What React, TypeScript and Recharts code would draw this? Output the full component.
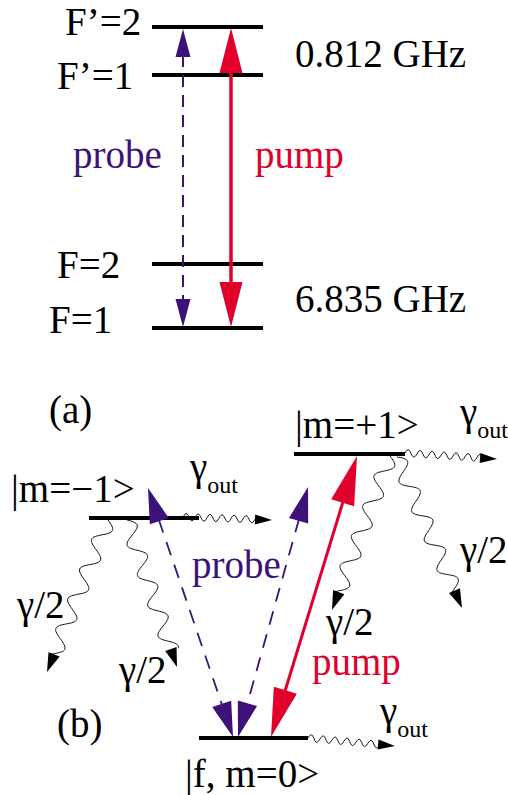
import React from "react";
import { ComposedChart, XAxis, YAxis, ReferenceLine, ReferenceDot } from "recharts";

const WIDTH = 508;
const HEIGHT = 795;
const PURPLE = "#3c1278";
const RED = "#e0002b";
const FONT = '"Liberation Serif", "DejaVu Serif", "Times New Roman", Times, serif';

// energy levels (picture coordinates, y grows downward)
const levelNames = ["F'=2", "F'=1", "F=2", "F=1", "m=-1", "m=+1", "f,m=0"];
const levelStart = [152, 152, 152, 152, 89, 294, 199];
const levelEnd = [263, 263, 263, 263, 199, 405, 308];
const levelY = [27, 75, 264, 328, 518, 454, 738];

// laser transitions, double-headed
const beams = [
  { panel: "a", beam: "probe", x1: 183, y1: 29, x2: 183, y2: 327 },
  { panel: "a", beam: "pump", x1: 231, y1: 28, x2: 231, y2: 327 },
  { panel: "b", beam: "probe", x1: 148, y1: 488, x2: 233, y2: 737 },
  { panel: "b", beam: "probe", x1: 308, y1: 487, x2: 238, y2: 737 },
  { panel: "b", beam: "pump", x1: 357, y1: 456, x2: 271, y2: 737 },
];

// spontaneous decays / losses (wavy)
const decays = [
  { kind: "out", x1: 183, y1: 517, x2: 272, y2: 520 },
  { kind: "half", x1: 108, y1: 520, x2: 47, y2: 672 },
  { kind: "half", x1: 127, y1: 520, x2: 177, y2: 667 },
  { kind: "out", x1: 405, y1: 453, x2: 497, y2: 459 },
  { kind: "half", x1: 390, y1: 456, x2: 332, y2: 610 },
  { kind: "half", x1: 397, y1: 457, x2: 462, y2: 608 },
  { kind: "out", x1: 308, y1: 738, x2: 395, y2: 746 },
];

// text labels
const labelText = [
  "F’=2", "F’=1", "F=2", "F=1", "0.812 GHz", "6.835 GHz", "probe", "pump",
  "(a)", "|m=−1>", "|m=+1>", "|f, m=0>", "probe", "pump", "(b)",
  "γ/2", "γ/2", "γ/2", "γ/2",
];
const labelX = [65, 57, 57, 49, 295, 295, 73, 255, 49, 11, 295, 185, 192, 312, 57, 17, 119, 326, 460];
const labelY = [35, 89, 278, 333, 67, 312, 168, 168, 423, 502, 438, 787, 578, 675, 737, 618, 683, 635, 563];
const labelTone = [
  "ink", "ink", "ink", "ink", "ink", "ink", "probe", "pump",
  "ink", "ink", "ink", "ink", "probe", "pump", "ink",
  "ink", "ink", "ink", "ink",
];

// gamma_out labels
const gammaOutX = [190, 460, 380];
const gammaOutY = [480, 425, 724];

const toneColor: Record<string, string> = { ink: "#000", probe: PURPLE, pump: RED };

const beamStyle: Record<string, Record<string, { color: string; width: number; dash?: string; hl: number; hw: number }>> = {
  a: {
    probe: { color: PURPLE, width: 2, dash: "12 8", hl: 28, hw: 15 },
    pump: { color: RED, width: 3.5, hl: 45, hw: 23 },
  },
  b: {
    probe: { color: PURPLE, width: 1.8, dash: "14 10", hl: 35, hw: 20 },
    pump: { color: RED, width: 3, hl: 49, hw: 24 },
  },
};
const waveStyle: Record<string, { amp: number; period: number; head: number; headW: number }> = {
  out: { amp: 3.5, period: 12, head: 17, headW: 10 },
  half: { amp: 8, period: 32, head: 19, headW: 12 },
};

function dir(x1: number, y1: number, x2: number, y2: number) {
  const len = Math.hypot(x2 - x1, y2 - y1);
  return { len, ux: (x2 - x1) / len, uy: (y2 - y1) / len };
}

function head(tx: number, ty: number, ux: number, uy: number, len: number, w: number) {
  const bx = tx - ux * len;
  const by = ty - uy * len;
  const nx = -uy * (w / 2);
  const ny = ux * (w / 2);
  return `${tx},${ty} ${bx + nx},${by + ny} ${bx - nx},${by - ny}`;
}

function BeamShape(props: any, panel: string, beam: string) {
  const { x1, y1, x2, y2 } = props;
  const s = beamStyle[panel][beam];
  const { ux, uy } = dir(x1, y1, x2, y2);
  return (
    <g>
      <line
        x1={x1 + ux * (s.hl - 2)}
        y1={y1 + uy * (s.hl - 2)}
        x2={x2 - ux * (s.hl - 2)}
        y2={y2 - uy * (s.hl - 2)}
        stroke={s.color}
        strokeWidth={s.width}
        strokeDasharray={s.dash}
      />
      <polygon points={head(x1, y1, -ux, -uy, s.hl, s.hw)} fill={s.color} />
      <polygon points={head(x2, y2, ux, uy, s.hl, s.hw)} fill={s.color} />
    </g>
  );
}

function WavyShape(props: any, kind: string) {
  const { x1, y1, x2, y2 } = props;
  const w = waveStyle[kind];
  const { len, ux, uy } = dir(x1, y1, x2, y2);
  const run = len - w.head + 2;
  let d = "";
  for (let s = 0; s <= run; s += 1) {
    const off = -w.amp * Math.sin((2 * Math.PI * s) / w.period);
    const px = x1 + ux * s - uy * off;
    const py = y1 + uy * s + ux * off;
    d += `${s === 0 ? "M" : "L"}${px.toFixed(1)},${py.toFixed(1)}`;
  }
  return (
    <g>
      <path d={d} fill="none" stroke="#111" strokeWidth={1} />
      <polygon points={head(x2, y2, ux, uy, w.head, w.headW)} fill="#000" />
    </g>
  );
}

export default function App() {
  return (
    <div style={{ position: "absolute", left: 0, top: 0, background: "#fff" }}>
      <ComposedChart width={WIDTH} height={HEIGHT} margin={{ top: 0, right: 0, bottom: 0, left: 0 }}>
        <XAxis type="number" dataKey="x" domain={[0, WIDTH]} allowDataOverflow hide />
        <YAxis type="number" dataKey="y" domain={[0, HEIGHT]} allowDataOverflow reversed hide />

        {levelNames.map((name, i) => (
          <ReferenceLine
            key={name}
            segment={[
              { x: levelStart[i], y: levelY[i] },
              { x: levelEnd[i], y: levelY[i] },
            ]}
            stroke="#000"
            strokeWidth={4}
            ifOverflow="visible"
          />
        ))}

        {decays.map((d, i) => (
          <ReferenceLine
            key={`decay-${i}`}
            segment={[
              { x: d.x1, y: d.y1 },
              { x: d.x2, y: d.y2 },
            ]}
            ifOverflow="visible"
            shape={(p: any) => WavyShape(p, d.kind)}
          />
        ))}

        {beams.map((b, i) => (
          <ReferenceLine
            key={`beam-${i}`}
            segment={[
              { x: b.x1, y: b.y1 },
              { x: b.x2, y: b.y2 },
            ]}
            ifOverflow="visible"
            shape={(p: any) => BeamShape(p, b.panel, b.beam)}
          />
        ))}

        {labelText.map((t, i) => (
          <ReferenceDot
            key={`label-${i}`}
            x={labelX[i]}
            y={labelY[i]}
            r={0}
            ifOverflow="visible"
            shape={(p: any) => (
              <text x={p.cx} y={p.cy} style={{ fontFamily: FONT, fontSize: 39 }} fill={toneColor[labelTone[i]]}>
                {t}
              </text>
            )}
          />
        ))}

        {gammaOutX.map((gx, i) => (
          <ReferenceDot
            key={`gout-${i}`}
            x={gx}
            y={gammaOutY[i]}
            r={0}
            ifOverflow="visible"
            shape={(p: any) => (
              <text x={p.cx} y={p.cy} style={{ fontFamily: FONT, fontSize: 39 }} fill="#000">
                γ
                <tspan dy={13} style={{ fontSize: 24 }}>
                  out
                </tspan>
              </text>
            )}
          />
        ))}
      </ComposedChart>
    </div>
  );
}
